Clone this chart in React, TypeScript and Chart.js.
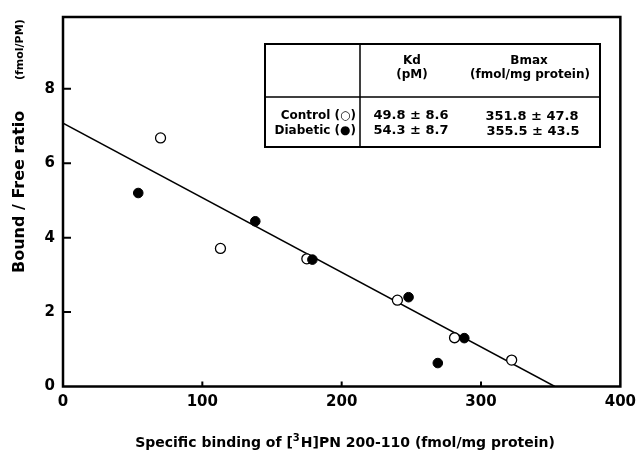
import React, { useEffect, useRef } from "react";
import { Chart, registerables } from "chart.js";

Chart.register(...registerables);

// ---- data ----
const controlX = [70, 113, 175, 240, 281, 322];
const controlY = [6.68, 3.71, 3.43, 2.32, 1.31, 0.71];
const diabeticX = [54, 138, 179, 248, 288, 269];
const diabeticY = [5.2, 4.44, 3.41, 2.4, 1.3, 0.63];
const fitX = [0, 353];
const fitY = [7.08, 0];
const xTickValues = [0, 100, 200, 300, 400];
const yTickValues = [0, 2, 4, 6, 8];
const tableHeader = [
  ["Kd", "(pM)"],
  ["Bmax", "(fmol/mg protein)"],
];
const tableRows = ["Control (○)", "Diabetic (●)"];
const kdValues = ["49.8 ± 8.6", "54.3 ± 8.7"];
const bmaxValues = ["351.8 ± 47.8", "355.5 ± 43.5"];

const FONT = "'DejaVu Sans', 'Liberation Sans', Arial, sans-serif";

const decorPlugin = {
  id: "decor",
  afterDatasetsDraw(chart: any) {
    const { ctx, chartArea, scales } = chart;
    const { left, right, top, bottom } = chartArea;
    const xs = scales.x;
    const ys = scales.y;
    ctx.save();
    ctx.strokeStyle = "#000";
    // frame
    ctx.lineWidth = 2.5;
    ctx.strokeRect(left, top, right - left, bottom - top);
    // inward ticks
    ctx.lineWidth = 2;
    ctx.beginPath();
    yTickValues.slice(1).forEach((v) => {
      const y = ys.getPixelForValue(v);
      ctx.moveTo(left, y);
      ctx.lineTo(left + 8, y);
    });
    xTickValues.slice(1, -1).forEach((v) => {
      const x = xs.getPixelForValue(v);
      ctx.moveTo(x, bottom);
      ctx.lineTo(x, bottom - 5);
    });
    ctx.stroke();

    // table box
    const bL = 265, bR = 600, bT = 44, bB = 147, bV = 360, bH = 97;
    ctx.fillStyle = "#fff";
    ctx.fillRect(bL, bT, bR - bL, bB - bT);
    ctx.lineWidth = 2;
    ctx.strokeRect(bL, bT, bR - bL, bB - bT);
    ctx.lineWidth = 1.5;
    ctx.beginPath();
    ctx.moveTo(bV, bT);
    ctx.lineTo(bV, bB);
    ctx.moveTo(bL, bH);
    ctx.lineTo(bR, bH);
    ctx.stroke();

    ctx.fillStyle = "#000";
    ctx.textBaseline = "middle";
    ctx.font = `bold 12px ${FONT}`;
    ctx.textAlign = "center";
    ctx.fillText(tableHeader[0][0], 412, 61);
    ctx.fillText(tableHeader[0][1], 412, 75);
    ctx.fillText(tableHeader[1][0], 529, 61);
    ctx.fillText(tableHeader[1][1], 530, 75);
    ctx.textAlign = "right";
    ctx.fillText(tableRows[0], 356, 116);
    ctx.fillText(tableRows[1], 356, 131);
    ctx.font = `bold 13px ${FONT}`;
    ctx.textAlign = "center";
    ctx.fillText(kdValues[0], 411, 116);
    ctx.fillText(kdValues[1], 411, 131);
    ctx.fillText(bmaxValues[0], 532, 117);
    ctx.fillText(bmaxValues[1], 533, 132);

    // x axis title with superscript
    const p1 = "Specific binding of [";
    const sup = "3";
    const p2 = "H]PN 200-110 (fmol/mg protein)";
    ctx.textAlign = "left";
    ctx.textBaseline = "alphabetic";
    ctx.font = `bold 14px ${FONT}`;
    const w1 = ctx.measureText(p1).width;
    const w3 = ctx.measureText(p2).width;
    ctx.font = `bold 10px ${FONT}`;
    const w2 = ctx.measureText(sup).width + 1;
    const total = w1 + w2 + w3;
    const x0 = 345 - total / 2;
    const yb = 447;
    ctx.font = `bold 14px ${FONT}`;
    ctx.fillText(p1, x0, yb);
    ctx.font = `bold 10px ${FONT}`;
    ctx.fillText(sup, x0 + w1, yb - 6);
    ctx.font = `bold 14px ${FONT}`;
    ctx.fillText(p2, x0 + w1 + w2, yb);

    // y axis title
    ctx.save();
    ctx.translate(20, 0);
    ctx.rotate(-Math.PI / 2);
    ctx.textBaseline = "middle";
    ctx.textAlign = "left";
    ctx.font = `bold 16px ${FONT}`;
    ctx.fillText("Bound / Free ratio", -273, 0);
    ctx.font = `bold 11px ${FONT}`;
    ctx.fillText("(fmol/PM)", -80, 0);
    ctx.restore();

    ctx.restore();
  },
};

export default function App() {
  const ref = useRef<HTMLCanvasElement | null>(null);
  useEffect(() => {
    if (!ref.current) return;
    const chart = new Chart(ref.current, {
      type: "scatter",
      data: {
        datasets: [
          {
            type: "line",
            label: "fit",
            data: fitX.map((x, i) => ({ x, y: fitY[i] })),
            borderColor: "#000",
            borderWidth: 1.5,
            pointRadius: 0,
            fill: false,
            order: 3,
          } as any,
          {
            label: "Control",
            data: controlX.map((x, i) => ({ x, y: controlY[i] })),
            backgroundColor: "#fff",
            borderColor: "#000",
            borderWidth: 1.3,
            pointRadius: 5,
            order: 2,
          },
          {
            label: "Diabetic",
            data: diabeticX.map((x, i) => ({ x, y: diabeticY[i] })),
            backgroundColor: "#000",
            borderColor: "#000",
            borderWidth: 1,
            pointRadius: 4.8,
            order: 1,
          },
        ],
      },
      options: {
        animation: false,
        responsive: false,
        maintainAspectRatio: false,
        layout: { padding: { left: 0, top: 12.5, right: 21, bottom: 0 } },
        plugins: { legend: { display: false }, tooltip: { enabled: false } },
        scales: {
          x: {
            type: "linear",
            min: 0,
            max: 400,
            afterBuildTicks: (s: any) => {
              s.ticks = xTickValues.map((v) => ({ value: v }));
            },
            afterFit: (s: any) => {
              s.height = 68.5;
            },
            grid: { display: false, drawTicks: false },
            border: { display: false },
            ticks: {
              color: "#000",
              padding: 7,
              font: { family: FONT, size: 15, weight: "bold" },
            },
          },
          y: {
            type: "linear",
            min: 0,
            max: 9.93,
            afterBuildTicks: (s: any) => {
              s.ticks = yTickValues.map((v) => ({ value: v }));
            },
            afterFit: (s: any) => {
              s.width = 63;
            },
            grid: { display: false, drawTicks: false },
            border: { display: false },
            ticks: {
              color: "#000",
              padding: 8,
              font: { family: FONT, size: 15, weight: "bold" },
            },
          },
        },
      },
      plugins: [decorPlugin],
    });
    return () => chart.destroy();
  }, []);
  return (
    <div style={{ position: "fixed", left: 0, top: 0, width: 643, height: 455, background: "#fff" }}>
      <canvas ref={ref} width={643} height={455} style={{ width: 643, height: 455 }} />
    </div>
  );
}
